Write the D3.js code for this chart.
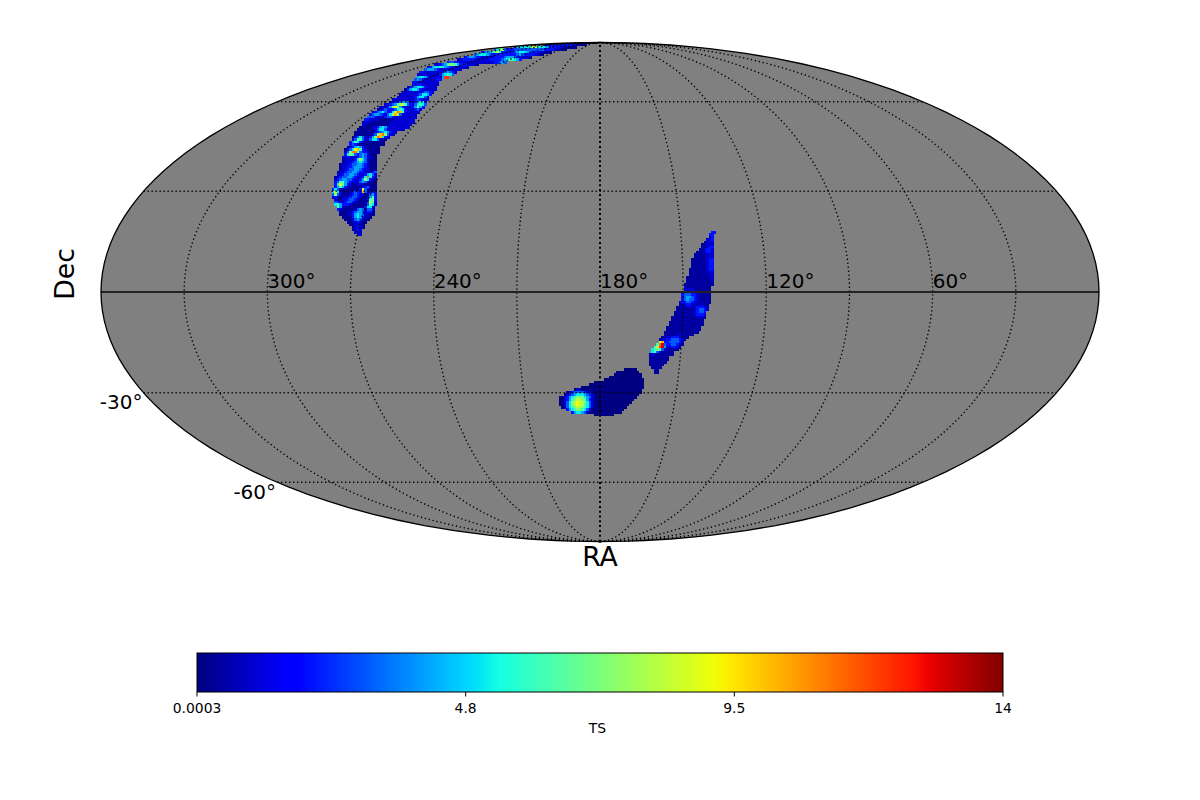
<!DOCTYPE html>
<html>
<head>
<meta charset="utf-8">
<style>
html,body{margin:0;padding:0;background:#fff}
svg{display:block}
text{font-family:"DejaVu Sans",sans-serif;fill:#000}
</style>
<script src="https://cdnjs.cloudflare.com/ajax/libs/d3/7.8.5/d3.min.js"></script>
</head>
<body>
<svg id="map" width="1200" height="800"></svg>
<script>
// Sky map rasters: each row is [map row, first map column, TS per column in hex].
// Map rows and columns index a 400 x 200 grid laid over the Mollweide plane.
const northPatch = [
[0,190,"000011100"],
[1,178,"11122222222211100"],
[2,166,"2455556886555422221110000"],
[3,158,"35873222333333333333222211100"],
[4,153,"2344578522222345554322211000"],
[5,150,"3455543222222222234322221100"],
[6,146,"234432211111222234443221110"],
[7,143,"11222222111112222234566542"],
[8,139,"233221111111111111122343"],
[9,134,"112346776422211110"],
[10,131,"12455654322111111"],
[11,130,"344432111111111"],
[12,128,"221111111234321"],
[13,127,"111111111245653"],
[14,127,"45542111114cc"],
[15,126,"34321111122"],
[16,125,"22111111111"],
[17,125,"22221111111"],
[18,123,"123455421111"],
[19,122,"1245542111111"],
[20,121,"1111111123321"],
[21,120,"1111111235542"],
[22,119,"1111111245531"],
[23,117,"111111111232111"],
[24,116,"112234431124552"],
[25,114,"11234688632135653"],
[26,112,"111247974211124642"],
[27,111,"112322235652111231"],
[28,109,"1234532258ba6211111"],
[29,108,"2344321358a73111111"],
[30,107,"33321112332111111111"],
[31,106,"22111100000011111111"],
[32,105,"111100000001111111111"],
[33,105,"11000000000111111111"],
[34,104,"00000112454211111111"],
[35,103,"0000000135531111111"],
[36,102,"00000000123454211"],
[37,102,"0000000137ab7311"],
[38,101,"0135310247ba521"],
[39,101,"13663113553100"],
[40,100,"24652100000000"],
[41,100,"23210000000000"],
[42,99,"0124542100000"],
[43,98,"01359a62100000"],
[44,98,"137bb632210000"],
[45,98,"2576323431000"],
[46,97,"11211123431100"],
[47,97,"01111258531000"],
[48,97,"01112345431000"],
[49,96,"011123344321000"],
[50,96,"011223444321000"],
[51,96,"011233443211000"],
[52,95,"0112334432210123"],
[53,95,"1123344321124531"],
[54,94,"0123344321125b521"],
[55,94,"12344332112475210"],
[56,94,"23664321113431000"],
[57,94,"25964210011100000"],
[58,94,"24642100000123100"],
[59,93,"253100000002931000"],
[60,93,"595100012322a30121"],
[61,93,"373100012321100342"],
[62,93,"121001123321001462"],
[63,94,"10011233210002672"],
[64,94,"32112332100013861"],
[65,94,"56422210000013651"],
[66,95,"641000000002551"],
[67,95,"210000013431331"],
[68,96,"00001234431220"],
[69,96,"00001245431100"],
[70,97,"000024542100"],
[71,98,"0001343100"],
[72,99,"00112100"],
[73,100,"001110"],
[74,101,"01210"],
[75,101,"0121"],
[76,102,"121"],
[77,103,"11"]
];

const eastPatch = [
[76,245,"22"],
[77,244,"22"],
[78,244,"12"],
[79,243,"112"],
[80,242,"0111"],
[81,241,"00111"],
[82,241,"00122"],
[83,240,"001221"],
[84,239,"0001221"],
[85,238,"00000111"],
[86,238,"00000111"],
[87,237,"000000122"],
[88,237,"000000122"],
[89,237,"000000122"],
[90,237,"000000122"],
[91,236,"0000000122"],
[92,236,"0000000111"],
[93,236,"0000000011"],
[94,235,"00000000001"],
[95,235,"00000000001"],
[96,235,"00000000000"],
[97,234,"000000000000"],
[98,234,"10000000000"],
[99,234,"11110000000"],
[100,234,"22221000000"],
[101,233,"233322100000"],
[102,233,"234432100000"],
[103,233,"234332100000"],
[104,232,"1223321100000"],
[105,232,"011221101100"],
[106,231,"0000110122211"],
[107,231,"0000000123321"],
[108,230,"0000000012332"],
[109,230,"0000000012221"],
[110,229,"00000000001110"],
[111,229,"0000000000000"],
[112,228,"00000000000000"],
[113,228,"00000000000000"],
[114,227,"00000000000000"],
[115,227,"00000000000000"],
[116,226,"00000000000000"],
[117,226,"000001100000"],
[118,225,"00112221000"],
[119,224,"01122333210"],
[120,224,"8a22333321"],
[121,223,"6bd32233210"],
[122,222,"68cd4112210"],
[123,221,"56763100000"],
[124,221,"563100000"],
[125,220,"0110000000"],
[126,220,"00000000"],
[127,220,"00000000"],
[128,220,"0000000"],
[129,220,"000000"],
[130,221,"0000"],
[131,222,"00"],
[132,222,"00"]
];

const southPatch = [
[131,210,"00000"],
[132,207,"000000000"],
[133,206,"00000000000"],
[134,204,"0000000000000"],
[135,202,"0000000000000000"],
[136,198,"00000000000000000000"],
[137,196,"0000000000000000000000"],
[138,193,"0000000000000000000000000"],
[139,190,"011000000000000000000000000"],
[140,187,"012333321100000000000000000000"],
[141,186,"012345554321000000000000000000"],
[142,184,"0012456777543100000000000000000"],
[143,184,"001246788764210000000000000000"],
[144,184,"00135789887531000000000000000"],
[145,184,"0013578988653100000000000000"],
[146,185,"01356788765310000000000000"],
[147,187,"24567765310000000000000"],
[148,189,"24554310000000000000"],
[149,198,"00000000"]
];

// Lowest TS shown in each patch; the fields bottom out just above zero.
const patchFloors = [0.3, 0.4, 0];

const raTicks = [300, 240, 180, 120, 60];
const decTicks = [-30, -60];
const raLines = [30, 60, 90, 120, 150, 210, 240, 270, 300, 330];
const decLines = [60, 30, -30, -60];
const colorTicks = ["0.0003", "4.8", "9.5", "14"];
const tsRange = [0.0003, 14];

// Matplotlib's jet, channel by channel.
const jetR = d3.scaleLinear().domain([0, .35, .66, .89, 1]).range([0, 0, 1, 1, .5]);
const jetG = d3.scaleLinear().domain([0, .125, .375, .64, .91, 1]).range([0, 0, 1, 1, 0, 0]);
const jetB = d3.scaleLinear().domain([0, .11, .34, .65, 1]).range([.5, 1, 1, 0, 0]);
const jet = t => d3.rgb(jetR(t) * 255, jetG(t) * 255, jetB(t) * 255).formatHex();
const tsNorm = d3.scaleLinear().domain(tsRange).range([0, 1]).clamp(true);

// Mollweide projection centred on RA 180, with RA growing to the left.
function mollweideRaw(lambda, phi) {
  let theta = phi;
  if (Math.abs(Math.abs(phi) - Math.PI / 2) > 1e-9) {
    for (let i = 0; i < 40; i++) {
      const d = (2 * theta + Math.sin(2 * theta) - Math.PI * Math.sin(phi)) / (2 + 2 * Math.cos(2 * theta));
      theta -= d;
      if (Math.abs(d) < 1e-9) break;
    }
  }
  return [2 * Math.SQRT2 / Math.PI * lambda * Math.cos(theta), Math.SQRT2 * Math.sin(theta)];
}
const projection = d3.geoProjection(mollweideRaw).scale(499 / (2 * Math.SQRT2)).translate([600, 292]).precision(0.2);
const path = d3.geoPath(projection);
const skyLon = ra => 180 - ra;

const svg = d3.select("#map");
const mapCol = d3.scaleLinear().domain([0, 400]).range([101, 1099]);
const mapRow = d3.scaleLinear().domain([0, 200]).range([42, 542]);

svg.append("clipPath").attr("id", "sky").append("path").attr("d", path({type: "Sphere"}));
svg.append("path").attr("d", path({type: "Sphere"})).attr("fill", "#808080");

// Rasterised TS cells, expanded from the row runs and centred on their indices.
const cells = [northPatch, eastPatch, southPatch].flatMap((patch, p) =>
  patch.flatMap(([row, col, run]) =>
    Array.from(run, (ch, i) => ({row, col: col + i, ts: Math.max(parseInt(ch, 16), patchFloors[p])}))));
svg.append("g").attr("clip-path", "url(#sky)").attr("shape-rendering", "crispEdges")
  .selectAll("rect").data(cells).join("rect")
  .attr("x", d => mapCol(d.col - 0.5))
  .attr("y", d => mapRow(d.row - 0.5))
  .attr("width", d => mapCol(1) - mapCol(0) + 0.4)
  .attr("height", d => mapRow(1) - mapRow(0) + 0.4)
  .attr("fill", d => jet(tsNorm(d.ts)));

// Graticule.
const line = coords => path({type: "LineString", coordinates: coords});
const g = svg.append("g").attr("fill", "none").attr("stroke", "#000");
const meridian = ra => d3.range(-90, 90.5, 2).map(dec => [skyLon(ra), dec]);
const parallel = dec => d3.range(-180, 180.5, 2).map(l => [l, dec]);
g.selectAll(".mer").data(raLines).join("path").attr("d", d => line(meridian(d)))
  .attr("stroke-width", 1.4).attr("stroke-dasharray", "1.3 2.7");
g.selectAll(".par").data(decLines).join("path").attr("d", d => line(parallel(d)))
  .attr("stroke-width", 1.4).attr("stroke-dasharray", "1.3 2.7");
g.append("path").attr("d", line(meridian(180)))
  .attr("stroke-width", 2).attr("stroke-dasharray", "2 2.8");
g.append("path").attr("d", line(parallel(0))).attr("stroke", "#222").attr("stroke-width", 1.8);
svg.append("path").attr("d", path({type: "Sphere"})).attr("fill", "none").attr("stroke", "#000").attr("stroke-width", 1.3);

// Graticule labels.
svg.selectAll(".ra").data(raTicks).join("text")
  .attr("x", d => projection([skyLon(d), 0])[0]).attr("y", 288)
  .attr("font-size", 20).text(d => d + "°");
svg.selectAll(".dec").data(decTicks).join("text")
  .attr("x", d => projection([-180, d])[0] - 1)
  .attr("y", d => projection([-180, d])[1] + 16.5)
  .attr("text-anchor", "end").attr("font-size", 20).text(d => d + "°");

svg.append("text").attr("x", 600).attr("y", 565.5).attr("text-anchor", "middle").attr("font-size", 26.7).text("RA");
svg.append("text").attr("transform", "translate(74,274) rotate(-90)").attr("text-anchor", "middle").attr("font-size", 26.7).text("Dec");

// Colour bar.
const bar = {x0: 197, x1: 1003, y0: 653, y1: 692};
const grad = svg.append("linearGradient").attr("id", "jetbar");
grad.selectAll("stop").data(d3.range(0, 1.0001, 1 / 128)).join("stop")
  .attr("offset", d => d).attr("stop-color", d => jet(d));
svg.append("rect").attr("x", bar.x0).attr("y", bar.y0).attr("width", bar.x1 - bar.x0).attr("height", bar.y1 - bar.y0)
  .attr("fill", "url(#jetbar)").attr("stroke", "#000").attr("stroke-width", 1);
const barAxis = d3.scalePoint().domain(colorTicks).range([bar.x0, bar.x1]);
const tick = svg.selectAll(".tick").data(colorTicks).join("g").attr("transform", d => `translate(${barAxis(d)},${bar.y1})`);
tick.append("line").attr("y2", 4.5).attr("stroke", "#000").attr("stroke-width", 1);
tick.append("text").attr("y", 20.5).attr("text-anchor", "middle").attr("font-size", 13.9).text(d => d);
svg.append("text").attr("x", 597.5).attr("y", 733).attr("text-anchor", "middle").attr("font-size", 13.9).text("TS");
</script>
</body>
</html>
